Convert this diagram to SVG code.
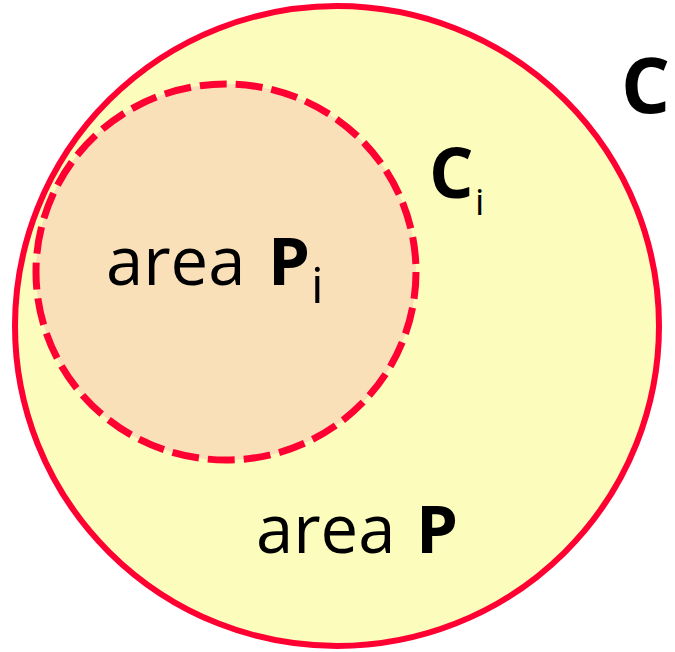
<svg xmlns="http://www.w3.org/2000/svg" width="675" height="652" viewBox="0 0 675 652">
<style>
.lbl{font-family:"Open Sans","DejaVu Sans",sans-serif;fill:#000}
.b{font-weight:bold}
</style>
<rect width="675" height="652" fill="#fff"/>
<g id="C">
<ellipse cx="337" cy="326" rx="322" ry="320" fill="#FCFCBC" stroke="#FF0033" stroke-width="6"/>
<text class="lbl b" x="621" y="113" font-size="77">C</text>
</g>
<g id="Ci">
<ellipse cx="226" cy="272" rx="190" ry="188" fill="#FAE0B8" stroke="#FF0033" stroke-width="7" stroke-dasharray="27 9"/>
<text class="lbl b" x="429" y="198" font-size="70">C</text>
<text class="lbl" x="475" y="215" font-size="37">i</text>
</g>
<g id="Pi">
<text class="lbl" x="106" y="285" font-size="67">area</text>
<text class="lbl b" x="268" y="285" font-size="67">P</text>
<text class="lbl" x="311" y="303" font-size="50">i</text>
</g>
<g id="P">
<text class="lbl" x="256" y="553" font-size="67">area</text>
<text class="lbl b" x="416" y="553" font-size="67">P</text>
</g>
<g id="connectors"/>
</svg>
